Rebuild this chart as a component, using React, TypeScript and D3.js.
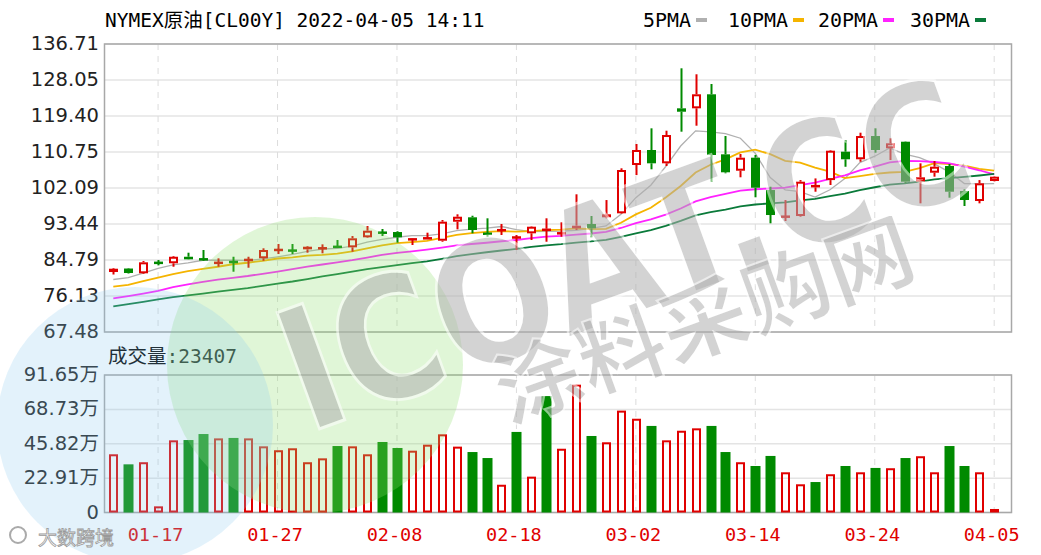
import React from "react";
import * as d3 from "d3";

const dates = ["01-12","01-13","01-14","01-17","01-18","01-19","01-20","01-21","01-24","01-25","01-26","01-27","01-28","01-31","02-01","02-02","02-03","02-04","02-07","02-08","02-09","02-10","02-11","02-14","02-15","02-16","02-17","02-18","02-21","02-22","02-23","02-24","02-25","02-28","03-01","03-02","03-03","03-04","03-07","03-08","03-09","03-10","03-11","03-14","03-15","03-16","03-17","03-18","03-21","03-22","03-23","03-24","03-25","03-28","03-29","03-30","03-31","04-01","04-04","04-05"];
const labeledDates = ["01-17","01-27","02-08","02-18","03-02","03-14","03-24","04-05"];

const opens = [81.90,82.74,81.59,84.20,84.00,85.57,85.00,84.00,84.40,84.70,
  85.20,87.10,87.10,87.35,87.50,88.00,87.83,90.24,91.40,91.51,
  89.70,89.90,89.42,93.99,95.05,91.20,91.90,90.10,91.20,91.80,
  91.10,92.40,93.44,95.05,96.01,107.62,111.23,108.03,121.25,121.25,
  124.62,110.19,106.25,109.38,101.61,95.10,95.36,102.26,104.00,110.82,
  109.00,114.59,111.64,113.22,103.61,105.77,107.38,101.37,98.97,103.78];
const closes = [82.69,81.66,84.23,84.00,85.57,84.95,84.90,84.20,84.20,84.90,
  87.19,87.30,87.00,87.98,87.70,87.90,90.00,91.83,91.30,90.24,
  89.80,90.10,94.00,95.19,92.00,91.00,92.00,90.30,92.79,92.30,
  91.30,93.03,92.40,95.77,106.42,111.23,108.03,114.83,120.43,124.62,
  110.03,105.87,109.38,102.16,95.60,95.30,103.61,102.81,111.06,109.00,
  114.59,111.23,112.84,103.61,104.66,107.21,101.20,99.21,103.22,104.81];
const highs = [82.86,82.86,84.54,84.78,85.75,86.54,87.19,85.19,85.57,85.57,
  87.60,88.63,88.63,88.15,88.55,89.59,90.55,92.95,92.24,91.70,
  89.90,91.35,94.40,95.77,95.43,94.81,93.44,90.79,92.90,94.81,
  93.85,100.58,95.36,99.20,106.83,112.67,116.44,115.87,130.87,129.43,
  127.10,114.59,110.27,110.03,102.40,99.20,104.00,104.40,111.20,113.63,
  115.39,116.44,114.04,113.30,108.03,108.58,107.86,101.78,104.00,104.90];
const lows = [81.30,81.54,81.42,83.51,83.17,84.90,84.60,83.17,81.97,82.93,
  84.60,86.23,86.23,86.54,86.39,87.80,86.78,90.10,90.55,88.94,
  88.39,89.85,89.18,92.16,91.20,90.38,90.79,87.19,89.59,89.18,
  90.38,92.00,90.24,94.81,95.90,105.20,106.59,107.38,115.63,117.07,
  103.60,105.63,104.67,99.86,93.61,94.16,95.19,101.20,102.81,107.20,
  108.41,110.58,108.82,103.22,98.41,104.81,99.76,97.77,98.41,103.70];
// closes before the first visible day (needed for moving averages)
const priorCloses = [65.57,66.50,66.26,69.49,72.05,72.36,70.94,71.67,71.29,70.73,
  70.87,72.38,70.86,68.23,71.12,72.76,73.79,75.57,75.98,76.56,
  76.99,75.21,76.08,76.99,77.85,79.46,78.90,78.23,81.22];
// volume in 万
const volumes = [38.8,32.1,33.5,4.1,48.1,48.3,52.3,49.4,49.7,49.4,
  44.1,41.5,42.8,33.5,36.1,44.3,44.1,38.8,47.0,43.0,
  41.2,45.2,52.1,43.9,40.3,36.3,18.5,53.7,23.9,77.6,
  42.5,85.2,51.0,46.8,67.9,62.5,57.7,48.1,54.5,56.1,
  57.7,40.3,33.5,31.0,37.7,26.8,18.8,20.3,25.5,31.0,
  26.8,29.7,29.5,36.3,37.5,26.8,44.3,31.0,26.8,2.34];
const volUp = [1,0,1,1,1,0,0,1,0,1, 1,1,1,1,1,0,1,1,0,0, 1,1,1,1,0,0,1,0,1,0,
  1,1,0,1,1,1,0,1,1,1, 0,0,1,0,0,1,1,0,1,0, 1,0,1,0,1,1,0,0,1,1];

const priceTicks = ["67.48","76.13","84.79","93.44","102.09","110.75","119.40","128.05","136.71"];
const volTicks = ["0","22.91万","45.82万","68.73万","91.65万"];
const maPeriods = [5, 10, 20, 30];
const maNames = ["5PMA", "10PMA", "20PMA", "30PMA"];
const maColors = ["#b0b0b0", "#f5b400", "#ff22ff", "#0a7a3a"];
const title = "NYMEX原油[CL00Y] 2022-04-05 14:11";
const volTitle = "成交量:23407";

const RED = "#e00000";
const GREEN = "#008a00";
const L = 104.5, R = 1011.5, PT = 44, PB = 332, VT = 375, VB = 512.5;
const MONO = "'DejaVu Sans Mono', 'Liberation Mono', 'Noto Sans CJK SC', monospace";
const SANS = "'DejaVu Sans', Verdana, 'Noto Sans CJK SC', sans-serif";

export default function App() {
  const n = dates.length;
  const x = d3.scaleLinear().domain([0, n - 1]).range([113.3, 994.2]);
  const y = d3.scaleLinear().domain([+priceTicks[0], +priceTicks[priceTicks.length - 1]]).range([PB, PT]);
  const yv = d3.scaleLinear().domain([0, 91.65]).range([VB, VT]);

  const all = priorCloses.concat(closes);
  const off = priorCloses.length;
  const mas = maPeriods.map((p) =>
    closes.map((_, i) => d3.mean(all.slice(off + i - p + 1, off + i + 1)) as number)
  );
  const line = d3.line<number>().x((_, i) => x(i)).y((v) => y(v)).curve(d3.curveLinear);

  const gridX = labeledDates.map((d) => x(dates.indexOf(d)));
  const bw = 9;

  return (
    <svg width={1041} height={555} style={{ position: "absolute", left: 0, top: 0, background: "#fff" }}>
      <rect x={0} y={0} width={1041} height={555} fill="#fff" />
      {/* price panel grid */}
      {priceTicks.map((t, k) => (
        <line key={"ph" + k} x1={L} x2={R} y1={y(+t)} y2={y(+t)} stroke="#e4e4e4" strokeWidth={1.5} />
      ))}
      {volTicks.map((t, k) => (
        <line key={"vh" + k} x1={L} x2={R} y1={yv((91.65 / 4) * k)} y2={yv((91.65 / 4) * k)} stroke="#e4e4e4" strokeWidth={1.5} />
      ))}
      {gridX.map((gx, k) => (
        <g key={"vg" + k}>
          <line x1={gx} x2={gx} y1={PT} y2={PB} stroke="#dcdcdc" strokeWidth={1} strokeDasharray="6,6" />
          <line x1={gx} x2={gx} y1={VT} y2={VB} stroke="#dcdcdc" strokeWidth={1} strokeDasharray="6,6" />
        </g>
      ))}
      <rect x={L} y={PT} width={R - L} height={PB - PT} fill="none" stroke="#a8a8a8" strokeWidth={1.5} />
      <rect x={L} y={VT} width={R - L} height={VB - VT} fill="none" stroke="#a8a8a8" strokeWidth={1.5} />

      {/* MA lines */}
      {mas.map((m, k) => (
        <path key={"ma" + k} d={line(m) || ""} fill="none" stroke={maColors[k]} strokeWidth={k === 0 ? 1.3 : 1.8} />
      ))}

      {/* candles */}
      {closes.map((c, i) => {
        const o = opens[i];
        const up = c >= o;
        const col = up ? RED : GREEN;
        const cx = Math.round(x(i)) + 0.5;
        const top = y(Math.max(o, c));
        const bot = y(Math.min(o, c));
        const h = bot - top;
        return (
          <g key={"c" + i}>
            <line x1={cx} x2={cx} y1={y(highs[i])} y2={top} stroke={col} strokeWidth={2} />
            <line x1={cx} x2={cx} y1={bot} y2={y(lows[i])} stroke={col} strokeWidth={2} />
            {h < 2.5 ? (
              <rect x={cx - bw / 2} y={(top + bot) / 2 - 1.25} width={bw} height={2.5} fill={col} />
            ) : up ? (
              <rect x={cx - bw / 2 + 1} y={top + 1} width={bw - 2} height={h - 2} fill="#fff" stroke={col} strokeWidth={2} />
            ) : (
              <rect x={cx - bw / 2} y={top} width={bw} height={h} fill={col} />
            )}
          </g>
        );
      })}

      {/* volume bars */}
      {volumes.map((v, i) => {
        const cx = Math.round(x(i)) + 0.5;
        const top = yv(v);
        const h = VB - top;
        return volUp[i] ? (
          <rect key={"v" + i} x={cx - bw / 2 + 1} y={top + 1} width={bw - 2} height={Math.max(h - 2, 0.5)} fill="none" stroke={RED} strokeWidth={2} />
        ) : (
          <rect key={"v" + i} x={cx - bw / 2 - 0.5} y={top} width={bw + 1} height={h} fill={GREEN} />
        );
      })}

      {/* axes labels */}
      {priceTicks.map((t, k) => (
        <text key={"pt" + k} x={99} y={y(+t) + 6} textAnchor="end" fontFamily={SANS} fontSize={19.5} fill="#222">{t}</text>
      ))}
      {volTicks.map((t, k) => (
        <text key={"vt" + k} x={99} y={yv((91.65 / 4) * k) + 6} textAnchor="end" fontFamily={SANS} fontSize={19.5} fill="#222">{t}</text>
      ))}
      {labeledDates.map((d, k) => (
        <text key={"dl" + k} x={gridX[k] - 2.5} y={541} textAnchor="middle" fontFamily={MONO} fontSize={18.5} fill={RED}>{d}</text>
      ))}

      {/* title and legend */}
      <text x={105} y={27} fontFamily={MONO} fontSize={19.5} fill="#000">{title}</text>
      {maNames.map((nm, k) => {
        const xs = [643, 728, 818, 910][k];
        return (
          <g key={"lg" + k}>
            <text x={xs} y={27} fontFamily={MONO} fontSize={19.5} fill="#000" textLength={nm.length * 12} lengthAdjust="spacingAndGlyphs">{nm}</text>
            <rect x={xs + nm.length * 12 + 5} y={18} width={11} height={4} fill={maColors[k]} />
          </g>
        );
      })}
      <text x={108} y={363} fontFamily={MONO} fontSize={19.5} fill="#000">{volTitle}</text>

      {/* watermark */}
      <g style={{ pointerEvents: "none" }}>
        <circle cx={315} cy={365} r={148} fill="#8fe070" opacity={0.28} />
        <circle cx={135} cy={425} r={138} fill="#8cc8f0" opacity={0.24} />
        <g transform="translate(625,255) rotate(-20)">
          <text x={0} y={0} textAnchor="middle" dominantBaseline="central" fontFamily="'DejaVu Sans', sans-serif" fontWeight="bold" fontSize={170} fill="#b0b0b0" stroke="#ffffff" strokeWidth={3} opacity={0.55} textLength={720} lengthAdjust="spacingAndGlyphs">ICOAT.CC</text>
        </g>
        <g transform="translate(702,315) rotate(-20)">
          <text x={0} y={0} textAnchor="middle" dominantBaseline="central" fontFamily="'Noto Sans CJK SC', sans-serif" fontWeight="bold" fontSize={84} fill="#b0b0b0" stroke="#ffffff" strokeWidth={2} opacity={0.55} textLength={440} lengthAdjust="spacingAndGlyphs">涂料采购网</text>
        </g>
        <text x={38} y={545} fontFamily="'Noto Sans CJK SC', sans-serif" fontSize={19} fill="#fff" stroke="#999" strokeWidth={0.8}>大数跨境</text>
        <circle cx={18} cy={535} r={8} fill="none" stroke="#aaa" strokeWidth={2} />
      </g>
    </svg>
  );
}
